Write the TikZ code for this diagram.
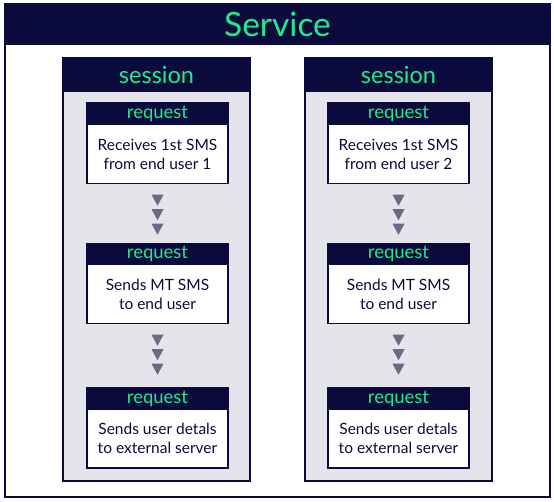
\documentclass[tikz,border=0pt]{standalone}
\usepackage{fontspec}
\setmainfont{Lato}
\usetikzlibrary{calc}
\definecolor{navy}{RGB}{11,10,60}
\definecolor{mint}{RGB}{28,236,140}
\definecolor{panel}{RGB}{229,228,234}
\definecolor{tri}{RGB}{107,106,133}
\begin{document}
\begin{tikzpicture}[x=1pt,y=-1pt,
  outerbox/.style={draw=navy,line width=2pt,fill=white},
  sessbody/.style={draw=navy,line width=1.5pt,fill=panel},
  reqbody/.style={draw=navy,line width=1.5pt,fill=white,minimum width=141pt,minimum height=59pt,align=center,inner sep=0pt,text=navy,font=\fontsize{15.5}{19}\selectfont},
  reqhead/.style={fill=navy,draw=navy,line width=1.5pt,minimum width=141pt,minimum height=21pt,inner sep=0pt,text=mint,font=\fontsize{18.5}{18.5}\selectfont},
  sesstitle/.style={text=mint,font=\fontsize{23.5}{23.5}\selectfont,inner sep=0pt},
  servtitle/.style={text=mint,font=\fontsize{33.5}{33.5}\selectfont,inner sep=0pt},
  tridown/.style={fill=tri}
]
\useasboundingbox (0,0) rectangle (554,502);
% Service
\draw[outerbox] (5,4) rectangle (550,497);
\fill[navy] (5,4) rectangle (550,45);
\draw[navy,line width=2pt] (5,4) rectangle (550,497);
\node[servtitle] (service) at (277.5,24.5) {Service};
% sessions
\foreach \sx/\nm in {63/A,305/B}{
  \draw[sessbody] (\sx,58) rectangle ++(187,423);
  \fill[navy] (\sx,58) rectangle ++(187,34);
  \draw[navy,line width=1.5pt] (\sx,58) rectangle ++(187,423);
  \node[sesstitle] (sess\nm) at ($(\sx,75)+(93.5,0)$) {session};
}
% requests left
\node[reqbody] (a1) at (157.5,154) {Receives 1st SMS\\from end user 1};
\node[reqhead] (a1h) at (157.5,113.5) {request};
\node[reqbody] (a2) at (157.5,294) {Sends MT SMS\\to end user};
\node[reqhead] (a2h) at (157.5,254) {request};
\node[reqbody] (a3) at (157.5,438.5) {Sends user detals\\to external server};
\node[reqhead] (a3h) at (157.5,398.5) {request};
% requests right
\node[reqbody] (b1) at (398.5,154) {Receives 1st SMS\\from end user 2};
\node[reqhead] (b1h) at (398.5,113.5) {request};
\node[reqbody] (b2) at (398.5,294) {Sends MT SMS\\to end user};
\node[reqhead] (b2h) at (398.5,254) {request};
\node[reqbody] (b3) at (398.5,438.5) {Sends user detals\\to external server};
\node[reqhead] (b3h) at (398.5,398.5) {request};
% triangle arrows
\foreach \n in {a1,a2,b1,b2}{
  \foreach \d in {10.5,25,39.5}{
    \fill[tridown] ($(\n.south)+(-6,\d)$) -- ++(12,0) -- ++(-6,11) -- cycle;
  }
}
\end{tikzpicture}
\end{document}
